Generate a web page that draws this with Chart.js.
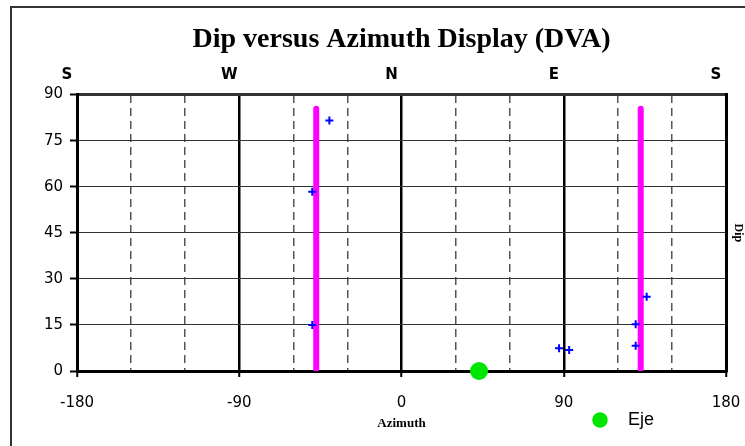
<!DOCTYPE html>
<html>
<head>
<meta charset="utf-8">
<script src="https://cdn.jsdelivr.net/npm/chart.js@4.4.1/dist/chart.umd.min.js"></script>
<style>
    body { margin: 0; background: #fff; overflow: hidden; }
    #frame { position: absolute; left: 10px; top: 6px; width: 800px; height: 500px;
             border-left: 2px solid #333; border-top: 2px solid #333; }
    #dva { position: absolute; left: 0; top: 0; }
</style>
</head>
<body>
<div id="frame"></div>
<canvas id="dva" width="745" height="446"></canvas>
<script>
// great circle traces (azimuth, dip range)
const planeAz = [-47.3, 132.7];
const planeDip = [0.5, 85.4];
// poles
const poleAz = [-40.0, -49.5, -49.5, 87.4, 93.0, 129.9, 129.9, 136.0];
const poleDip = [81.6, 58.4, 15.0, 7.4, 6.8, 15.2, 8.2, 24.2];
// axis
const ejeAz = [43];
const ejeDip = [0];

const azTicks = [-180, -90, 0, 90, 180];
const compass = ['S', 'W', 'N', 'E', 'S'];

window.onload = function() {
    dva();
};

// put the legend next to the Azimuth title, like the original sheet
const legendSpot = {
    id: 'legendSpot',
    afterLayout(chart) {
        const lg = chart.legend;
        lg.left = 591;
        lg.right = 745;
        lg.top = 411;
        lg.bottom = 441;
    }
};

function dva() {
    const ctx = document.getElementById('dva').getContext('2d');
    Chart.defaults.color = '#000';

    const planes = planeAz.map(function(az, i) {
        return {
            label: 'Plano ' + (i + 1),
            data: planeDip.map(d => ({ x: az, y: d })),
            showLine: true,
            borderColor: '#FF00FF',
            backgroundColor: '#FF00FF',
            borderWidth: 6,
            borderCapStyle: 'round',
            pointRadius: 0
        };
    });

    const chart = new Chart(ctx, {
        type: 'scatter',
        data: {
            datasets: [
                {
                    label: 'Eje',
                    data: ejeAz.map((a, i) => ({ x: a, y: ejeDip[i] })),
                    pointStyle: 'circle',
                    pointRadius: 9,
                    backgroundColor: '#00E600',
                    borderColor: '#00E600',
                    borderWidth: 0,
                    clip: false
                },
                {
                    label: 'Polos',
                    data: poleAz.map((a, i) => ({ x: a, y: poleDip[i] })),
                    pointStyle: 'cross',
                    pointRadius: 4,
                    borderColor: '#0000FF',
                    borderWidth: 2
                },
                ...planes
            ]
        },
        options: {
            responsive: false,
            animation: false,
            layout: { padding: 0 },
            plugins: {
                title: {
                    display: true,
                    text: 'Dip versus Azimuth Display (DVA)',
                    fullSize: false,
                    color: '#000',
                    font: { family: 'Liberation Serif', size: 28, weight: 'bold' },
                    padding: { top: 23, bottom: 0 }
                },
                legend: {
                    position: 'bottom',
                    align: 'start',
                    labels: {
                        usePointStyle: true,
                        boxHeight: 11,
                        padding: 0,
                        color: '#000',
                        font: { family: 'Liberation Sans', size: 18 },
                        generateLabels(chart) {
                            return Chart.defaults.plugins.legend.labels.generateLabels(chart)
                                .filter(l => l.text === 'Eje')
                                .map(l => ({ ...l, text: '  ' + l.text }));
                        }
                    }
                },
                tooltip: { enabled: false }
            },
            scales: {
                x: {
                    type: 'linear',
                    position: 'bottom',
                    min: -180,
                    max: 180,
                    afterBuildTicks(s) { s.ticks = azTicks.map(v => ({ value: v })); },
                    ticks: {
                        color: '#000',
                        font: { family: 'DejaVu Sans', size: 15 },
                        padding: 17
                    },
                    grid: { color: '#000', lineWidth: 2.5, tickLength: 6, tickWidth: 2 },
                    border: { color: '#000', width: 3 },
                    title: {
                        display: true,
                        text: 'Azimuth',
                        color: '#000',
                        font: { family: 'Liberation Serif', size: 13, weight: 'bold' },
                        padding: { top: 0, bottom: -13 }
                    },
                    afterFit(s) {
                        s.height = 47;
                        s.paddingLeft = 0;
                        s.paddingRight = 0;
                    }
                },
                x2: {
                    type: 'linear',
                    position: 'top',
                    min: -180,
                    max: 180,
                    ticks: {
                        stepSize: 30,
                        autoSkip: false,
                        maxRotation: 0,
                        color: '#000',
                        font: { family: 'DejaVu Sans', size: 15, weight: 'bold' },
                        padding: 10,
                        labelOffset: -10,
                        callback: function(v) {
                            const k = azTicks.indexOf(v);
                            return k >= 0 ? compass[k] : '';
                        }
                    },
                    grid: {
                        drawTicks: false,
                        lineWidth: 1.5,
                        color: function(c) {
                            return (c.tick && c.tick.value % 90 === 0) ? 'rgba(0,0,0,0)' : '#555';
                        }
                    },
                    border: { display: false, dash: [8, 5] },
                    afterFit(s) {
                        s.height = 38;
                        s.paddingLeft = 0;
                        s.paddingRight = 0;
                    }
                },
                y: {
                    min: 0,
                    max: 90,
                    ticks: {
                        stepSize: 15,
                        color: '#000',
                        font: { family: 'DejaVu Sans', size: 15 },
                        padding: 7
                    },
                    grid: {
                        color: '#333',
                        lineWidth: c => (c.tick && c.tick.value === 90) ? 3 : 1,
                        tickLength: 7,
                        tickColor: '#000',
                        tickWidth: 2
                    },
                    border: { color: '#000', width: 3 },
                    afterFit(s) { s.width = 77; }
                },
                y2: {
                    position: 'right',
                    min: 0,
                    max: 90,
                    ticks: { display: false },
                    grid: { display: false },
                    border: { color: '#000', width: 3 },
                    title: {
                        display: true,
                        text: 'Dip',
                        color: '#000',
                        font: { family: 'Liberation Serif', size: 12, weight: 'bold' },
                        padding: 0
                    },
                    afterFit(s) { s.width = 19; }
                }
            }
        },
        plugins: [legendSpot]
    });
}
</script>
</body>
</html>
